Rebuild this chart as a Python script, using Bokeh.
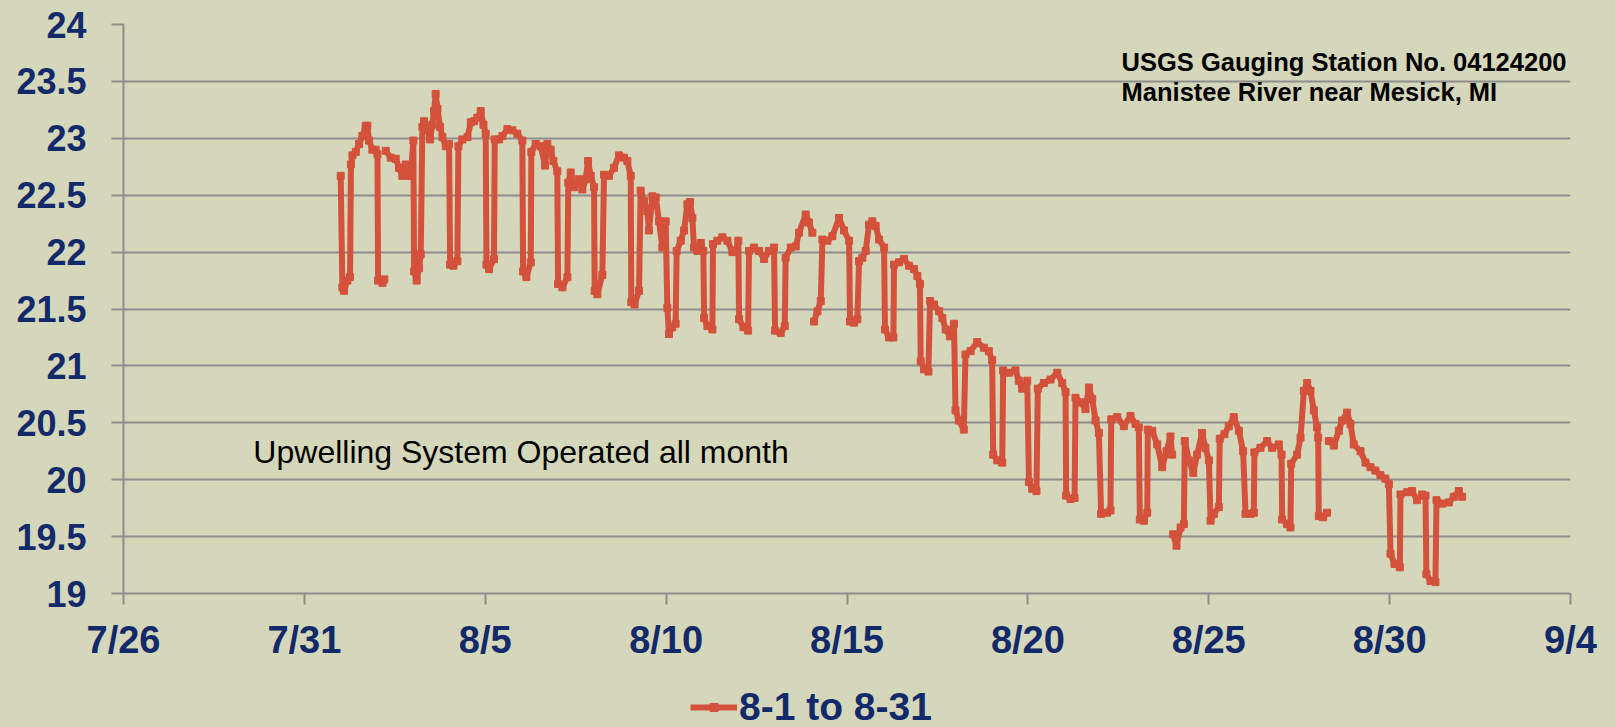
import numpy as np
from bokeh.plotting import figure
from bokeh.layouts import column
from bokeh.models import Range1d, FixedTicker, Label, Legend, LegendItem
from bokeh.embed import file_html
from bokeh.resources import INLINE

# ---------------- data ----------------
# hours since 8/1 00:00 ; None marks a gap in the record
hours = [
    0.1, 1.2, 2.3, 4.5, 6.3, 6.9, 7.9, 10.1, 12.3, 14.5, 16.7, 17.8, 18.9, 21.1, 23.3, 24.5,
    24.9, 27.8, 29.0, None,
    30.0, 33.3, 36.6, 38.8, 41.0, 43.2, 44.4, 46.6, 48.3,
    48.8, 50.5, 52.1, 53.2, 54.3, 55.4, 57.6, 59.4, 60.9, 62.0, 63.1, 64.3, 66.0, 67.6, 69.8, 72.0,
    72.7, 74.9, 77.5, 78.2, 80.8, 84.2, 86.4, 88.6, 90.8, 93.0, 94.8, 96.3,
    96.8, 98.5, 101.8, 102.3, 105.2, 107.4, 110.7, 114.0, 117.3, 120.6,
    121.1, 123.3, 126.2, 126.6, 129.5, 132.8, 135.7, 137.2, 139.4, 141.2, 143.8,
    144.3, 147.2, 150.5, 151.1, 152.7, 154.9, 158.2, 160.4, 162.6, 164.2, 166.0, 168.2,
    168.6, 170.4, 173.7, 174.8, 178.1, 181.4, 184.7, 188.1, 190.3, 192.5,
    192.9, 195.1, 198.0, 199.1, 201.3, 203.5, 204.6, 206.9, 209.1, 211.3, 213.5, 215.7,
    216.8, 217.9, 220.1, 222.3, 223.0, 225.7, 227.9, 230.1, 231.9, 233.4, 234.5, 236.8, 239.0, 240.7,
    241.2, 243.4, 246.7, 247.1, 250.0, 253.3, 256.7, 260.0, 262.2, 263.9,
    264.4, 267.3, 270.4, 271.0, 274.3, 277.7, 281.0, 284.3, 287.6,
    288.3, 292.0, 294.7, 295.3, 298.7, 302.0, 304.2, 308.6, 310.8, 313.0, None,
    314.1, 316.4, 318.6, 319.7, 323.0, 326.3, 330.7, 334.0, 337.4,
    338.0, 340.7, 342.9, 344.0, 346.2, 348.4, 350.6, 352.8, 355.0, 357.3, 360.6,
    361.2, 363.9, 366.8, 367.2, 370.5, 373.8, 377.2, 380.5, 382.7, 384.4,
    384.9, 387.1, 390.0, 391.1, 393.7, 397.1, 399.3, 401.5, 404.3, 407.0,
    408.0, 410.2, 413.5, 414.6, 418.0, 422.4, 426.8, 430.1, 432.3,
    433.0, 435.7, 439.0, 439.6, 443.4, 447.8, 450.0, 452.2, 455.6,
    456.7, 458.9, 461.7, 462.6, 466.6, 471.0, 475.5, 478.8, 481.0,
    481.4, 484.3, 487.0, 487.6, 490.9, 494.2, 496.5, 498.7, 500.9, 503.1,
    504.6, 508.6, 510.8, 511.3, 515.3, 519.7, 524.1, 527.4, 529.6,
    530.3, 533.0, 535.2, 535.6, 538.5, 541.8, 545.1, 548.0, 550.6, 551.7, None,
    552.4, 554.6, 557.3, 559.5, 560.1, 562.8, 565.7, 568.3, 571.6, 573.8, 576.1,
    577.2, 579.4, 582.7, 583.3, 586.4, 589.3, 592.6, 596.0, 598.8,
    600.4, 603.7, 605.9, 606.3, 610.3, 614.7, 618.1, 622.5, 624.3,
    624.7, 628.0, 630.2, 630.7, 634.6, 636.9, 639.1, 641.3, 643.5, 645.7, 647.9, 648.6,
    649.0, 651.9, 654.5, None,
    655.7, 659.0, 662.3, 664.5, 667.8, 670.0, 672.2, 676.7, 680.0, 683.3, 686.6, 689.9, 693.2, 695.5,
    696.6, 699.2, 702.8, 703.2, 707.6, 710.9, 714.2, 717.6, 719.8,
    720.4, 723.1, 726.4, 727.1, 730.8, 735.3, 738.6, 741.9, 744.1,
]
temp_c = [
    22.67, 21.69, 21.66, 21.75, 21.78, 22.77, 22.85, 22.88, 22.95, 23.02, 23.11, 23.11, 22.98, 22.90, 22.90, 22.86,
    21.75, 21.73, 21.76, None,
    22.89, 22.83, 22.82, 22.74, 22.67, 22.77, 22.67, 22.67, 22.98,
    21.83, 21.75, 21.86, 21.98, 23.10, 23.15, 23.08, 22.99, 23.12, 23.24, 23.39, 23.26, 23.10, 23.01, 22.93, 22.95,
    21.89, 21.88, 21.92, 22.93, 22.99, 23.01, 23.14, 23.15, 23.18, 23.24, 23.12, 23.04,
    21.89, 21.85, 21.94, 22.99, 22.99, 23.02, 23.08, 23.07, 23.04, 22.98,
    21.83, 21.78, 21.91, 22.88, 22.95, 22.93, 22.76, 22.95, 22.90, 22.80, 22.71,
    21.72, 21.69, 21.78, 22.61, 22.70, 22.57, 22.64, 22.55, 22.64, 22.80, 22.67, 22.57,
    21.66, 21.63, 21.80, 22.68, 22.67, 22.74, 22.85, 22.83, 22.80, 22.67,
    21.56, 21.54, 21.66, 22.54, 22.45, 22.36, 22.19, 22.49, 22.48, 22.27, 22.04, 22.27,
    21.51, 21.28, 21.34, 21.37, 22.01, 22.10, 22.19, 22.42, 22.44, 22.30, 22.04, 22.01, 22.08, 22.01,
    21.42, 21.35, 21.32, 22.07, 22.10, 22.13, 22.10, 22.00, 22.01, 22.10,
    21.41, 21.34, 21.31, 22.01, 22.04, 22.01, 21.94, 22.01, 22.04,
    21.31, 21.29, 21.35, 21.95, 22.04, 22.05, 22.17, 22.33, 22.26, 22.17, None,
    21.39, 21.48, 21.57, 22.11, 22.10, 22.14, 22.30, 22.19, 22.10,
    21.39, 21.38, 21.41, 21.92, 21.95, 22.01, 22.24, 22.27, 22.23, 22.11, 22.04,
    21.32, 21.25, 21.25, 21.89, 21.91, 21.94, 21.88, 21.85, 21.79, 21.72,
    21.04, 20.97, 20.95, 21.57, 21.54, 21.48, 21.42, 21.32, 21.26, 21.37,
    20.61, 20.52, 20.44, 21.10, 21.13, 21.21, 21.16, 21.13, 21.05,
    20.22, 20.17, 20.15, 20.96, 20.94, 20.96, 20.87, 20.80, 20.87,
    19.98, 19.92, 19.90, 20.80, 20.85, 20.88, 20.94, 20.85, 20.77,
    19.86, 19.83, 19.84, 20.72, 20.68, 20.62, 20.81, 20.71, 20.52, 20.41,
    19.70, 19.71, 19.73, 20.53, 20.55, 20.47, 20.56, 20.49, 20.46,
    19.65, 19.64, 19.71, 20.44, 20.43, 20.31, 20.11, 20.25, 20.38, 20.22, None,
    19.52, 19.42, 19.58, 19.61, 20.34, 20.17, 20.06, 20.22, 20.41, 20.28, 20.17,
    19.64, 19.70, 19.76, 20.36, 20.40, 20.47, 20.55, 20.43, 20.25,
    19.70, 19.70, 19.71, 20.24, 20.28, 20.34, 20.28, 20.31, 20.22,
    19.65, 19.61, 19.58, 20.14, 20.22, 20.37, 20.78, 20.85, 20.78, 20.61, 20.46, 20.37,
    19.68, 19.67, 19.71, None,
    20.34, 20.30, 20.43, 20.52, 20.59, 20.49, 20.31, 20.25, 20.15, 20.11, 20.08, 20.04, 20.01, 19.96,
    19.35, 19.26, 19.23, 19.87, 19.89, 19.90, 19.82, 19.87, 19.86,
    19.17, 19.11, 19.10, 19.82, 19.79, 19.80, 19.85, 19.90, 19.85,
]

series_name = "8-1 to 8-31"
x_tick_days = [0, 5, 10, 15, 20, 25, 30, 35, 40]          # days since 7/26
x_tick_labels = ["7/26", "7/31", "8/5", "8/10", "8/15", "8/20", "8/25", "8/30", "9/4"]
y_ticks = [19.0, 19.5, 20.0, 20.5, 21.0, 21.5, 22.0, 22.5, 23.0, 23.5, 24.0]
station_lines = ["USGS Gauging Station No. 04124200", "Manistee River near Mesick, MI"]
note_text = "Upwelling System Operated all month"
series_start_day = 6   # 8/1 counted in days from 7/26

# ---------------- styling ----------------
BG = "#d5d7ba"
GRID = "#8d8d8d"
NAVY = "#12296a"
RED = "#d4513b"
FONT = "Liberation Sans"

x = series_start_day + np.array(hours, dtype=float) / 24.0
y = np.array(temp_c, dtype=float)

p = figure(width=1615, height=680, x_range=Range1d(0, 40), y_range=Range1d(19, 24),
           output_backend="svg", toolbar_location=None,
           min_border_left=123, min_border_right=45, min_border_top=24, min_border_bottom=87,
           background_fill_color=BG, border_fill_color=BG, outline_line_color=None)

p.xgrid.visible = False
p.ygrid.ticker = FixedTicker(ticks=y_ticks)
p.ygrid.grid_line_color = GRID
p.ygrid.grid_line_width = 2

for ax, tick_out, standoff, fs in ((p.xaxis[0], 11, 14, "38px"), (p.yaxis[0], 12, 25, "36px")):
    ax.axis_line_color = GRID
    ax.axis_line_width = 2
    ax.major_tick_line_color = GRID
    ax.major_tick_line_width = 2
    ax.major_tick_out = tick_out
    ax.major_tick_in = 0
    ax.minor_tick_out = 0
    ax.minor_tick_in = 0
    ax.major_label_text_font = FONT
    ax.major_label_text_font_size = fs
    ax.major_label_text_font_style = "bold"
    ax.major_label_text_color = NAVY
    ax.major_label_standoff = standoff

p.xaxis[0].ticker = FixedTicker(ticks=x_tick_days)
p.xaxis[0].major_label_overrides = {d: lab for d, lab in zip(x_tick_days, x_tick_labels)}
p.yaxis[0].ticker = FixedTicker(ticks=y_ticks)
p.yaxis[0].major_label_overrides = {t: f"{t:g}" for t in y_ticks}

p.line(x, y, line_color=RED, line_width=6, line_join="round")
p.scatter(x, y, marker="square", size=7, fill_color=RED, line_color=RED)

for i, line in enumerate(station_lines):
    p.add_layout(Label(x=27.59, y=23.668 - i * 0.263, text=line, text_font=FONT,
                       text_font_size="25.5px", text_font_style="bold", text_color="black",
                       text_baseline="middle"))

p.add_layout(Label(x=3.59, y=20.245, text=note_text, text_font=FONT,
                   text_font_size="32px", text_color="black", text_baseline="middle"))

# ---------------- legend strip below the chart ----------------
leg = figure(width=1615, height=47, x_range=Range1d(0, 1), y_range=Range1d(0, 1),
             output_backend="svg", toolbar_location=None,
             x_axis_location=None, y_axis_location=None,
             min_border_left=0, min_border_right=0, min_border_top=0, min_border_bottom=0,
             background_fill_color=None, border_fill_color=BG, outline_line_color=None)
leg.xgrid.visible = False
leg.ygrid.visible = False
nan = [float("nan")]
lr = leg.line(nan, nan, line_color=RED, line_width=6)
sr = leg.scatter(nan, nan, marker="square", size=7, fill_color=RED, line_color=RED)
legend = Legend(items=[LegendItem(label=series_name, renderers=[lr, sr])],
                location=(567, -2), orientation="horizontal",
                background_fill_alpha=0, border_line_alpha=0,
                padding=0, spacing=0, margin=0,
                glyph_width=47, glyph_height=20, label_standoff=2,
                label_text_font=FONT, label_text_font_size="39px",
                label_text_font_style="bold", label_text_color=NAVY)
leg.add_layout(legend)

layout = column(p, leg, spacing=0, styles={"background-color": BG})
open("out.html", "w").write(file_html(layout, INLINE))
